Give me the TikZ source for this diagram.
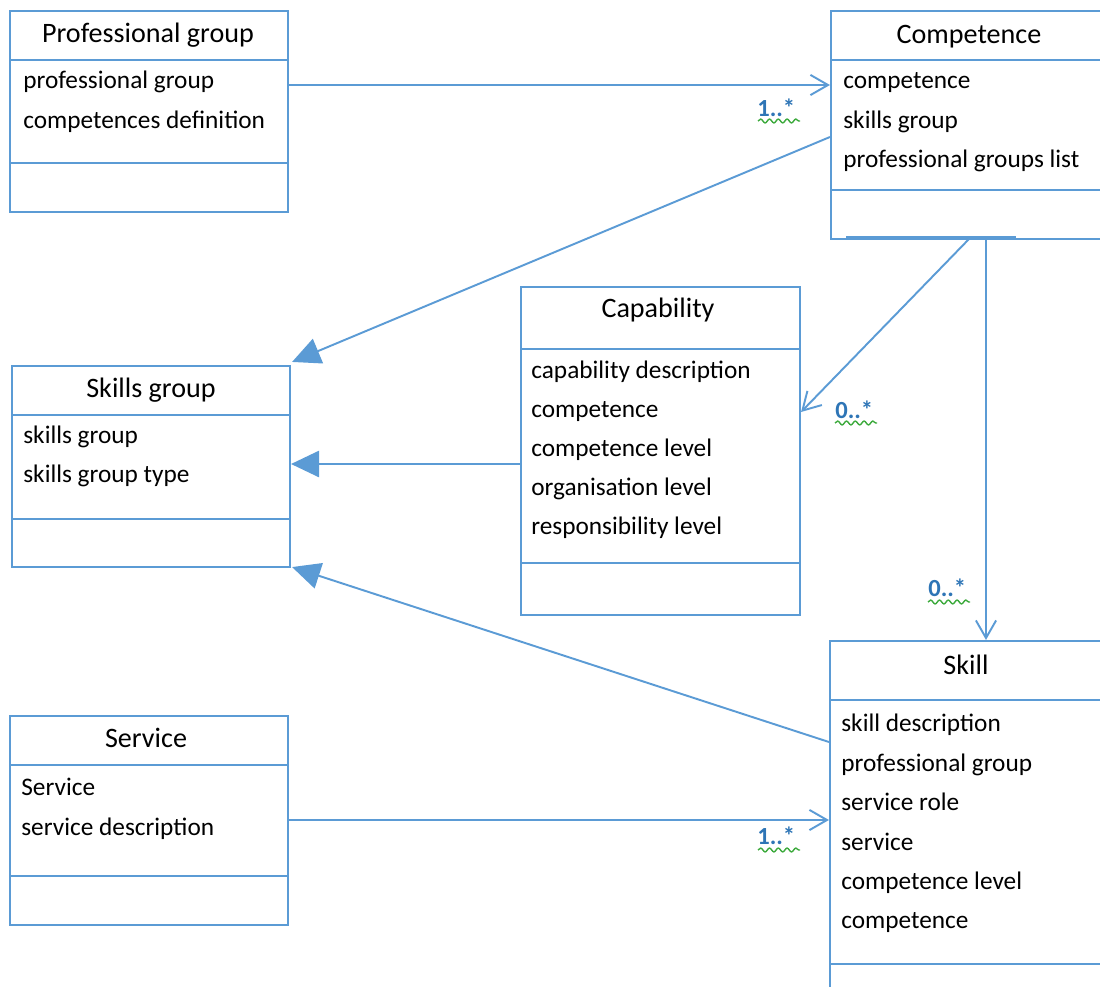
\documentclass[tikz,border=0pt]{standalone}
\usepackage{fontspec}
\setmainfont{Carlito}
\usetikzlibrary{arrows.meta,fit,calc,decorations.pathmorphing}
\definecolor{umlblue}{HTML}{5B9BD5}
\definecolor{multblue}{HTML}{2E75B6}
\definecolor{squig}{HTML}{3DAA3D}
\tikzset{
  box/.style={draw=umlblue, line width=1.2pt, inner sep=0pt},
  sep/.style={draw=umlblue, line width=1.2pt},
  title/.style={anchor=base, inner sep=0pt, font=\fontsize{16}{18}\selectfont},
  attr/.style={anchor=base west, inner sep=0pt, font=\fontsize{14.4}{16}\selectfont},
  link/.style={draw=umlblue, line width=1.1pt},
  assoc/.style={link, -{Straight Barb[length=10pt,width=11.5pt,line width=1.1pt]}},
  general/.style={link, -{Triangle[length=16pt,width=15pt,fill=umlblue]}},
  mult/.style={anchor=base west, inner sep=0pt, text=multblue, font=\fontsize{14}{16}\selectfont\bfseries},
  wavy/.style={draw=squig, line width=0.8pt, decorate, decoration={snake, segment length=5pt, amplitude=1.1pt}}
}
\begin{document}
\begin{tikzpicture}[x=0.02cm, y=-0.02cm]
\useasboundingbox (0,0) rectangle (1100,987);
\clip (0,0) rectangle (1100,987);

% Professional group
\node[box, fit={(10,11) (288,212)}] (pg) {};
\draw[sep] (10,60) -- (288,60) (10,163) -- (288,163);
\node[title] at (148,42) {Professional group};
\node[attr] at (23,89) {professional group};
\node[attr] at (23,128) {competences definition};

% Competence
\node[box, fit={(831,11) (1115,239)}] (comp) {};
\draw[sep] (831,60) -- (1115,60) (831,190) -- (1115,190);
\draw[umlblue, line width=2.4pt] (846,238) -- (1016,238);
\node[title] at (969,43) {Competence};
\node[attr] at (843,88) {competence};
\node[attr] at (843,128) {skills group};
\node[attr] at (843,167) {professional groups list};

% Capability
\node[box, fit={(521,287) (800,615)}] (cap) {};
\draw[sep] (521,349) -- (800,349) (521,563) -- (800,563);
\node[title] at (658,317) {Capability};
\node[attr] at (531,378) {capability description};
\node[attr] at (531,417) {competence};
\node[attr] at (531,456) {competence level};
\node[attr] at (531,495) {organisation level};
\node[attr] at (531,534) {responsibility level};

% Skills group
\node[box, fit={(12,366) (290,567)}] (sg) {};
\draw[sep] (12,415) -- (290,415) (12,519) -- (290,519);
\node[title] at (151,397) {Skills group};
\node[attr] at (23,443) {skills group};
\node[attr] at (23,482) {skills group type};

% Service
\node[box, fit={(10,716) (288,925)}] (srv) {};
\draw[sep] (10,765) -- (288,765) (10,876) -- (288,876);
\node[title] at (146,747) {Service};
\node[attr] at (21,795) {Service};
\node[attr] at (21,835) {service description};

% Skill
\node[box, fit={(830,641) (1115,1010)}] (skill) {};
\draw[sep] (830,700) -- (1115,700) (830,964) -- (1115,964);
\node[title] at (966,674) {Skill};
\node[attr] at (841,731) {skill description};
\node[attr] at (841,771) {professional group};
\node[attr] at (841,810) {service role};
\node[attr] at (841,850) {service};
\node[attr] at (841,889) {competence level};
\node[attr] at (841,928) {competence};

% Associations
\draw[assoc] (pg.east |- 0,85) -- (comp.west |- 0,85);
\draw[assoc] (srv.east |- 0,820) -- (skill.west |- 0,820);
\draw[assoc] (969,239) -- (cap.east |- 0,412);
\draw[assoc] (986,239) -- (986,0 |- skill.north);

% Generalisations into Skills group
\draw[general] (comp.west |- 0,137) -- ($(sg.north east)+(1,-3)$);
\draw[general] (cap.west |- 0,464) -- (sg.east |- 0,464);
\draw[general] (skill.west |- 0,742) -- ($(sg.south east)+(1,-1)$);

% Multiplicities
\node[mult] (m1) at (757,116) {1..*};
\draw[wavy] (758,121) -- (800,121);
\node[mult] (m2) at (835,418) {0..*};
\draw[wavy] (835,423) -- (877,423);
\node[mult] (m3) at (928,596) {0..*};
\draw[wavy] (928,602) -- (970,602);
\node[mult] (m4) at (757,844) {1..*};
\draw[wavy] (758,850) -- (800,850);
\end{tikzpicture}
\end{document}
